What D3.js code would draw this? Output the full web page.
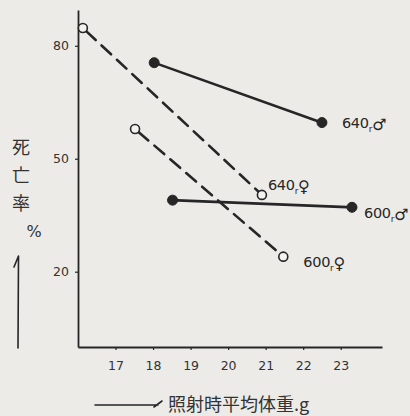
<!DOCTYPE html>
<html>
<head>
<meta charset="utf-8">
<script src="https://cdn.jsdelivr.net/npm/d3@7"></script>
<style>
  html, body { margin: 0; padding: 0; background: #ecebe8; }
  svg { display: block; }
</style>
</head>
<body>
<svg id="chart" width="410" height="416"></svg>
<script>
// Mean body weight at irradiation (g) vs. mortality (%), by dose and sex
const xTicks = [17, 18, 19, 20, 21, 22, 23];
const yTicks = [20, 50, 80];

const seriesNames = ["640r♀", "600r♀", "640r♂", "600r♂"];
const seriesDose  = ["640", "600", "640", "600"];
const seriesSex   = ["♀", "♀", "♂", "♂"];
const seriesWeight = [[16.13, 20.9], [17.52, 21.47], [18.03, 22.5], [18.52, 23.3]];
const seriesMortality = [[84.7, 40.4], [57.9, 24.0], [75.5, 59.6], [39.0, 37.1]];

const xLabel = "照射時平均体重.g";
const yLabel = ["死", "亡", "率"];

const ink = "#262626";
const svg = d3.select("#chart");

const x = d3.scaleLinear().domain([16, 24.1]).range([78, 382]);
const y = d3.scaleLinear().domain([0, 89.5]).range([347, 10]);

// axes
const xAxis = svg.append("g").attr("transform", `translate(0,${y(0)})`)
  .call(d3.axisBottom(x).tickValues(xTicks).tickSize(3).tickSizeOuter(0).tickPadding(11));
const yAxis = svg.append("g").attr("transform", `translate(${x(16)},0)`)
  .call(d3.axisLeft(y).tickValues(yTicks).tickSize(3).tickSizeOuter(0).tickPadding(6));

[xAxis, yAxis].forEach(g => {
  g.select(".domain").attr("stroke", ink).attr("stroke-width", 1.8);
  g.selectAll(".tick line").attr("stroke", ink).attr("stroke-width", 1.2);
  g.selectAll(".tick text").attr("fill", "#333").attr("font-size", 12.5)
    .attr("font-family", "'DejaVu Sans', sans-serif");
});

// series lines and end markers
seriesNames.forEach((name, i) => {
  const female = seriesSex[i] === "♀";
  const pts = seriesWeight[i].map((w, j) => [x(w), y(seriesMortality[i][j])]);
  const r = female ? 4.5 : 5;
  // trim the line to the marker edges
  const [a, b] = pts;
  const len = Math.hypot(b[0] - a[0], b[1] - a[1]);
  const ux = (b[0] - a[0]) / len, uy = (b[1] - a[1]) / len;
  svg.append("line")
    .attr("x1", a[0] + ux * r).attr("y1", a[1] + uy * r)
    .attr("x2", b[0] - ux * r).attr("y2", b[1] - uy * r)
    .attr("stroke", ink).attr("stroke-width", 2.6)
    .attr("stroke-linecap", "round")
    .attr("stroke-dasharray", female ? "13 8" : null);
  svg.selectAll(null).data(pts).enter().append("circle")
    .attr("cx", d => d[0]).attr("cy", d => d[1]).attr("r", r)
    .attr("fill", female ? "#f2f2ef" : ink)
    .attr("stroke", ink).attr("stroke-width", female ? 1.6 : 1);
});

// end labels: dose, subscript r, sex symbol
const labelOffset = [[6, -5], [20, 10], [20, 5], [12, 11]];
seriesNames.forEach((name, i) => {
  const ex = x(seriesWeight[i][1]) + labelOffset[i][0];
  const ey = y(seriesMortality[i][1]) + labelOffset[i][1];
  const t = svg.append("text").attr("x", ex).attr("y", ey)
    .attr("fill", ink).attr("font-family", "'DejaVu Sans', sans-serif")
    .attr("font-size", 14.5).attr("letter-spacing", -0.3);
  t.append("tspan").text(seriesDose[i]);
  t.append("tspan").text("r").attr("font-size", 9).attr("dy", 4);
  t.append("tspan").text(seriesSex[i]).attr("font-size", 16).attr("dy", -2);
});

// y-axis title with upward arrow
const cjk = "'Noto Sans CJK JP', 'Noto Sans CJK SC', sans-serif";
yLabel.forEach((ch, i) => {
  svg.append("text").attr("x", 21).attr("y", 154 + i * 28)
    .attr("text-anchor", "middle").attr("font-family", cjk)
    .attr("font-size", 18).attr("fill", "#333").text(ch);
});
svg.append("text").attr("x", 34).attr("y", 237).attr("text-anchor", "middle")
  .attr("font-family", "'DejaVu Sans', sans-serif").attr("font-size", 16)
  .attr("fill", "#333").text("%");
svg.append("path").attr("d", "M18,348 L18.5,256 M18.5,256 L14,267")
  .attr("fill", "none").attr("stroke", ink).attr("stroke-width", 1.6)
  .attr("stroke-linecap", "round");

// x-axis title with arrow
svg.append("path").attr("d", "M95,405 L158,405 M154,407 L162,401")
  .attr("fill", "none").attr("stroke", ink).attr("stroke-width", 1.6)
  .attr("stroke-linecap", "round");
svg.append("text").attr("x", 168).attr("y", 411)
  .attr("font-family", cjk).attr("font-size", 18).attr("fill", "#333").text(xLabel);
</script>
</body>
</html>
